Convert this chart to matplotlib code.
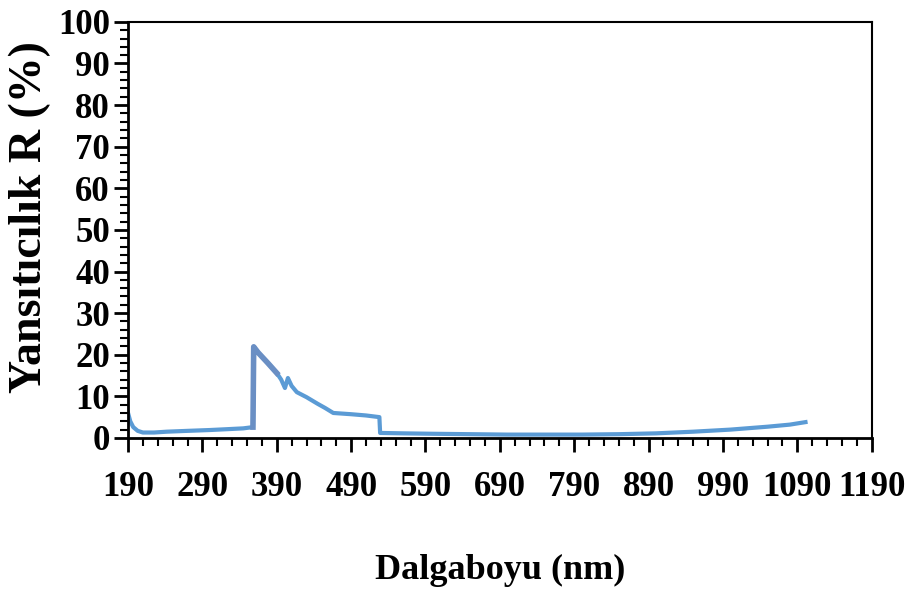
import matplotlib.pyplot as plt

# wavelength (nm) and reflectance (%)
wavelength = [190, 193, 197, 203, 210, 225, 242, 270, 300, 323, 345, 358,
              359, 365, 378, 390, 396, 401, 405, 410, 417, 430, 445, 455, 466,
              490, 510, 528, 529, 560, 600, 650, 700, 750, 800, 850, 900, 950,
              1000, 1050, 1080, 1101]
reflectance = [6.0, 4.0, 2.6, 1.7, 1.3, 1.3, 1.5, 1.7, 1.9, 2.1, 2.3, 2.6,
               21.9, 20.5, 18.0, 15.6, 14.0, 12.0, 14.4, 12.5, 11.0, 9.8, 8.2, 7.2, 6.0,
               5.7, 5.4, 5.0, 1.2, 1.1, 1.0, 0.9, 0.8, 0.8, 0.8, 0.9, 1.1, 1.5,
               2.0, 2.7, 3.2, 3.8]

peak_x = [358, 359, 365, 378, 390]
peak_y = [2.6, 21.9, 20.5, 18.0, 15.6]

x_ticks = list(range(190, 1191, 100))
x_minor = list(range(190, 1191, 20))
y_ticks = list(range(0, 101, 10))
y_minor = list(range(0, 101, 2))

plt.rcParams['font.family'] = ['Liberation Serif', 'DejaVu Serif']
plt.rcParams['font.weight'] = 'bold'

fig = plt.figure(figsize=(9.08, 5.91), dpi=100)
ax = fig.add_axes([0.141, 0.259, 0.819, 0.704])

ax.plot(wavelength, reflectance, color='#5b9bd5', linewidth=3)
ax.plot(peak_x, peak_y, color='#6a8fc4', linewidth=4)

ax.set_xlim(190, 1190)
ax.set_ylim(0, 100)
ax.set_xticks(x_ticks)
ax.set_xticks(x_minor, minor=True)
ax.set_yticks(y_ticks)
ax.set_yticks(y_minor, minor=True)

ax.tick_params(axis='both', which='major', direction='out', length=10, width=2,
               labelsize=25, color='black')
ax.tick_params(axis='both', which='minor', direction='out', length=6, width=1.5)
ax.tick_params(axis='x', pad=14)
ax.tick_params(axis='y', pad=3)
for lab in ax.get_xticklabels() + ax.get_yticklabels():
    lab.set_fontweight('bold')

for side in ['left', 'bottom']:
    ax.spines[side].set_linewidth(2)
for side in ['top', 'right']:
    ax.spines[side].set_linewidth(1.5)

ax.set_xlabel('Dalgaboyu (nm)', fontsize=26, fontweight='bold', labelpad=36)
ax.set_ylabel('Yansıtıcılık R (%)', fontsize=33, fontweight='bold')
ax.yaxis.set_label_coords(-0.104, 0.53)

fig.savefig('out.png', dpi=100)
